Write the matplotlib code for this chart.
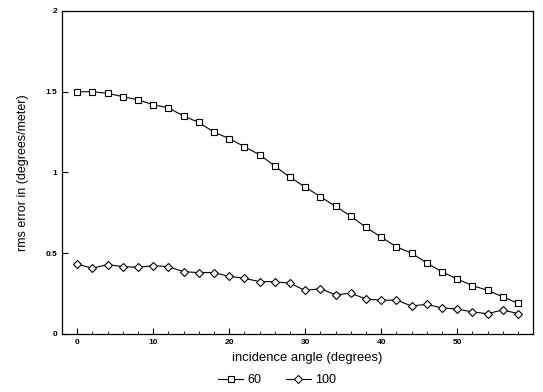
import matplotlib
matplotlib.use("Agg")
import matplotlib.pyplot as plt
from matplotlib.ticker import MultipleLocator

plt.rcParams['font.family'] = ['Liberation Sans', 'DejaVu Sans']

angles = [0, 2, 4, 6, 8, 10, 12, 14, 16, 18, 20, 22, 24, 26, 28, 30,
          32, 34, 36, 38, 40, 42, 44, 46, 48, 50, 52, 54, 56, 58]
err_60 = [1.50, 1.50, 1.49, 1.47, 1.45, 1.42, 1.40, 1.35, 1.31, 1.25,
          1.21, 1.16, 1.11, 1.04, 0.97, 0.91, 0.85, 0.79, 0.73, 0.66,
          0.60, 0.54, 0.50, 0.44, 0.385, 0.34, 0.30, 0.27, 0.23, 0.19]
err_100 = [0.433, 0.407, 0.43, 0.417, 0.413, 0.423, 0.417, 0.386, 0.38, 0.38,
           0.357, 0.345, 0.324, 0.324, 0.314, 0.27, 0.28, 0.243, 0.252, 0.217,
           0.209, 0.21, 0.173, 0.184, 0.161, 0.155, 0.136, 0.126, 0.149, 0.126]
labels = ['60', '100']
xticks = [0, 10, 20, 30, 40, 50]
yticks = [0, 0.5, 1, 1.5, 2]
yticklabels = ['0', '0.5', '1', '1.5', '2']

fig = plt.figure(figsize=(5.43, 3.92), dpi=100)
ax = fig.add_axes([0.114, 0.148, 0.868, 0.824])

l1, = ax.plot(angles, err_60, color='black', lw=0.8, marker='s', ms=5,
              mfc='white', mec='black', mew=0.8, label=labels[0])
l2, = ax.plot(angles, err_100, color='black', lw=0.8, marker='D', ms=4.5,
              mfc='white', mec='black', mew=0.8, label=labels[1])

ax.set_xlim(-2, 60)
ax.set_ylim(0, 2)
ax.set_xticks(xticks)
ax.xaxis.set_minor_locator(MultipleLocator(2))
ax.set_yticks(yticks)
ax.set_yticklabels(yticklabels)
ax.tick_params(axis='both', which='both', direction='in', labelsize=6)
ax.tick_params(axis='both', which='major', length=4, width=0.8)
ax.tick_params(axis='x', which='minor', length=2, width=0.6)
ax.tick_params(axis='x', which='both', top=False)
ax.tick_params(axis='y', right=False)
for t in ax.get_xticklabels() + ax.get_yticklabels():
    t.set_fontweight('bold')
for s in ax.spines.values():
    s.set_linewidth(0.9)

ax.set_xlabel('incidence angle (degrees)', fontsize=9.4)
ax.xaxis.set_label_coords(0.52, -0.055)
ax.set_ylabel('rms error in (degrees/meter)', fontsize=9, labelpad=12)

fig.legend(handles=[l1, l2], labels=labels, loc='center', ncol=2,
           bbox_to_anchor=(0.51, 0.03), frameon=False, fontsize=9,
           handlelength=2.0, columnspacing=2.0, handletextpad=0.3)

fig.savefig('out.png', dpi=100)
